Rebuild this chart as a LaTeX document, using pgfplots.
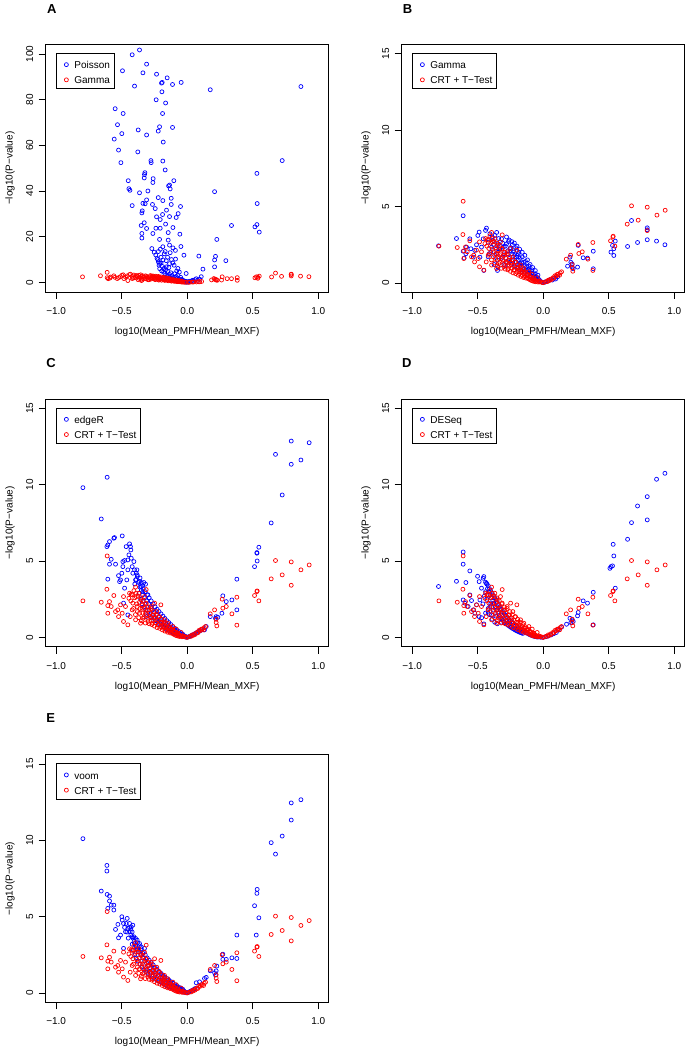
\documentclass[border=0pt]{standalone}
\usepackage{fontspec}
\setmainfont{Liberation Sans}
\usepackage{pgfplots}
\usepackage{pgfplotstable}
\pgfplotsset{compat=1.18}

\definecolor{rblue}{RGB}{0,0,255}
\definecolor{rred}{RGB}{255,0,0}

% ---- data: x = log10(Mean_PMFH/Mean_MXF), y = -log10(P-value)
\pgfplotstableread{
x y
-0.364 101.7
-0.420 99.6
-0.310 95.5
-0.494 92.6
-0.338 91.7
-0.234 91.1
-0.153 89.5
-0.196 87.2
-0.191 87.5
-0.046 87.5
-0.112 86.6
-0.402 85.9
0.176 84.3
0.868 85.7
-0.193 83.4
-0.237 79.9
-0.165 78.5
-0.550 76.0
-0.489 73.9
-0.188 73.9
-0.211 68.1
-0.112 67.8
-0.532 69.0
-0.221 66.2
-0.374 66.7
-0.310 64.5
-0.499 65.1
-0.557 62.7
-0.183 61.4
-0.524 57.9
-0.377 57.1
-0.506 52.4
-0.277 53.3
-0.275 52.4
-0.186 53.1
-0.168 49.2
0.725 53.3
0.532 47.7
-0.323 48.0
-0.326 47.2
-0.328 45.7
-0.260 45.4
-0.450 44.5
-0.102 44.5
-0.262 43.7
-0.142 42.2
-0.135 42.6
-0.130 40.9
-0.445 41.0
-0.437 40.3
0.209 39.7
-0.364 39.2
-0.300 40.0
-0.221 37.1
-0.122 36.8
-0.186 35.8
-0.310 36.1
-0.338 34.6
-0.321 34.4
-0.420 33.6
-0.265 34.1
-0.051 33.2
-0.122 34.1
0.534 34.5
-0.244 32.3
-0.343 31.3
-0.158 31.6
-0.346 30.4
-0.188 29.7
-0.069 30.1
-0.084 28.4
-0.234 28.7
-0.135 28.8
-0.206 27.5
-0.328 26.1
-0.165 25.5
-0.351 24.9
0.338 24.9
0.532 25.3
0.517 24.3
0.550 22.0
-0.310 23.6
-0.239 23.7
-0.206 23.7
-0.109 24.0
-0.145 21.8
-0.346 21.4
-0.262 21.4
-0.056 21.1
-0.346 19.4
0.226 18.8
-0.211 18.8
-0.145 18.5
-0.135 16.3
-0.048 15.7
-0.186 15.6
-0.270 14.8
-0.109 15.1
-0.252 13.2
-0.168 13.5
0.089 11.5
0.216 11.4
-0.025 11.9
0.295 9.5
0.209 9.8
-0.224 10.0
-0.089 10.2
-0.211 8.3
-0.135 8.2
-0.160 6.8
0.209 6.8
0.120 5.8
-0.071 6.1
-0.008 3.9
0.107 2.5
0.069 1.6
-0.041 1.3
-0.240 12.0
-0.230 10.5
-0.220 9.0
-0.215 7.5
-0.210 6.0
-0.200 8.5
-0.195 5.0
-0.190 7.0
-0.180 4.5
-0.175 6.2
-0.170 3.8
-0.165 5.5
-0.160 9.5
-0.155 3.2
-0.150 4.8
-0.145 2.5
-0.140 6.5
-0.135 3.5
-0.130 2.0
-0.125 4.2
-0.120 1.8
-0.115 3.0
-0.110 8.5
-0.105 2.2
-0.100 1.5
-0.095 3.8
-0.090 1.2
-0.085 2.6
-0.080 0.9
-0.075 1.9
-0.070 3.0
-0.065 0.8
-0.060 1.4
-0.055 0.6
-0.050 2.2
-0.045 0.5
-0.040 1.0
-0.035 0.4
-0.030 0.8
-0.025 0.3
-0.020 0.6
-0.015 0.2
-0.010 0.4
-0.005 0.15
0.000 0.1
0.005 0.3
0.010 0.2
0.020 0.5
0.030 0.4
0.040 0.9
0.050 0.6
0.060 1.2
0.080 0.9
0.095 1.4
-0.200 11.0
-0.185 9.8
-0.220 13.5
-0.205 14.5
-0.175 12.5
-0.150 11.0
-0.120 10.0
-0.100 7.5
-0.080 5.0
-0.060 4.5
-0.130 13.0
-0.090 14.0
}\tabpoisson

\pgfplotstableread{
x y
-0.799 2.42
-0.662 2.90
-0.611 4.39
-0.611 2.07
-0.603 1.62
-0.590 1.90
-0.585 2.34
-0.552 2.23
-0.560 2.88
-0.534 1.68
-0.522 2.12
-0.509 2.49
-0.499 3.10
-0.489 3.32
-0.483 1.68
-0.471 2.34
-0.458 2.88
-0.453 0.81
-0.440 3.43
-0.433 3.58
-0.420 2.66
-0.412 1.90
-0.407 3.21
-0.394 2.34
-0.382 2.77
-0.369 3.10
-0.356 1.90
-0.349 0.81
-0.344 2.55
-0.331 2.23
-0.318 2.88
-0.310 1.68
-0.305 2.34
-0.293 1.14
-0.280 2.55
-0.267 1.90
-0.254 2.23
-0.242 1.46
-0.229 2.01
-0.216 1.03
-0.204 1.68
-0.191 1.90
-0.178 1.24
0.186 1.09
0.204 1.68
0.211 1.35
0.221 1.24
0.221 1.03
0.229 0.92
0.262 1.03
0.267 2.45
0.305 1.64
0.338 1.62
0.382 2.07
0.382 0.92
0.517 2.01
0.529 2.45
0.539 2.23
0.539 1.79
0.550 2.73
0.644 2.38
0.674 4.08
0.720 2.64
0.794 3.60
0.794 3.47
0.794 2.82
0.865 2.73
0.929 2.49
-0.340 2.90
-0.330 2.20
-0.320 1.60
-0.310 2.60
-0.300 1.90
-0.290 2.40
-0.280 1.40
-0.270 2.10
-0.265 2.70
-0.260 1.60
-0.250 2.30
-0.245 1.20
-0.240 1.90
-0.235 2.50
-0.230 1.50
-0.225 2.10
-0.220 1.10
-0.215 1.70
-0.210 2.30
-0.205 1.35
-0.200 1.80
-0.195 0.95
-0.190 1.50
-0.185 2.00
-0.180 1.15
-0.175 1.60
-0.170 0.85
-0.165 1.30
-0.160 1.70
-0.155 1.00
-0.150 1.35
-0.145 0.70
-0.140 1.10
-0.135 1.40
-0.130 0.80
-0.125 1.05
-0.120 0.55
-0.115 0.85
-0.110 1.10
-0.105 0.60
-0.100 0.80
-0.095 0.45
-0.090 0.65
-0.085 0.85
-0.080 0.40
-0.075 0.55
-0.070 0.30
-0.065 0.45
-0.060 0.60
-0.055 0.25
-0.050 0.38
-0.045 0.18
-0.040 0.28
-0.035 0.12
-0.030 0.20
-0.020 0.08
-0.010 0.05
0.010 0.03
0.020 0.07
0.040 0.12
0.050 0.20
0.070 0.18
0.085 0.30
0.095 0.25
0.110 0.40
-0.380 2.50
-0.370 1.80
-0.360 2.20
-0.350 1.50
-0.400 2.00
-0.420 1.70
-0.390 3.00
-0.375 1.20
-0.355 3.30
-0.345 1.00
-0.300 1.20
-0.280 3.00
-0.260 2.80
-0.240 2.70
-0.220 2.60
-0.200 2.40
-0.180 2.20
-0.160 2.00
-0.140 1.80
-0.120 1.50
-0.100 1.20
-0.080 1.00
-0.060 0.80
-0.040 0.50
}\tabgamma

\pgfplotstableread{
x y
-0.796 2.40
-0.656 2.31
-0.611 5.34
-0.613 3.16
-0.606 2.09
-0.606 1.59
-0.593 2.35
-0.580 2.03
-0.560 2.75
-0.547 1.70
-0.530 1.81
-0.524 1.37
-0.509 2.14
-0.496 1.59
-0.486 1.05
-0.486 2.68
-0.471 2.03
-0.453 0.83
-0.445 2.57
-0.435 1.37
-0.427 2.83
-0.420 1.81
-0.415 2.25
-0.407 3.07
-0.394 1.16
-0.389 2.68
-0.382 2.03
-0.369 2.90
-0.364 1.59
-0.356 0.94
-0.351 2.46
-0.344 1.92
-0.338 1.26
-0.326 2.68
-0.318 1.59
-0.313 2.25
-0.300 1.05
-0.293 1.81
-0.282 1.37
-0.275 2.03
-0.267 0.94
-0.257 1.48
-0.249 2.25
-0.242 1.16
-0.232 1.70
-0.224 0.83
-0.211 1.37
-0.201 2.14
-0.193 0.98
-0.186 0.72
-0.173 1.16
-0.160 0.72
-0.148 0.94
-0.135 0.61
-0.122 0.50
-0.109 0.72
-0.097 0.39
-0.084 0.55
-0.071 0.28
-0.059 0.17
-0.046 0.33
-0.033 0.11
-0.020 0.07
-0.008 0.02
0.018 0.07
0.038 0.17
0.056 0.24
0.074 0.33
0.089 0.46
0.107 0.55
0.125 0.50
0.140 0.72
0.176 1.55
0.209 1.81
0.221 1.20
0.226 0.76
0.221 0.98
0.267 2.51
0.272 1.92
0.298 2.03
0.341 1.55
0.379 2.64
0.379 0.81
0.514 2.75
0.532 3.01
0.534 3.05
0.547 2.40
0.641 3.84
0.674 5.04
0.725 4.10
0.794 4.95
0.794 3.42
0.868 4.43
0.931 4.75
-0.313 3.14
-0.394 3.30
-0.440 2.90
-0.430 2.40
-0.420 2.80
-0.410 1.90
-0.400 2.60
-0.395 1.50
-0.390 2.90
-0.385 2.20
-0.380 1.70
-0.375 2.70
-0.370 1.30
-0.365 2.30
-0.360 1.90
-0.355 2.60
-0.350 1.10
-0.345 2.10
-0.340 1.60
-0.335 2.40
-0.330 1.35
-0.325 1.90
-0.320 0.95
-0.315 2.20
-0.310 1.50
-0.305 1.80
-0.300 1.20
-0.295 2.00
-0.290 0.90
-0.285 1.60
-0.280 1.30
-0.275 1.90
-0.270 0.85
-0.265 1.45
-0.260 1.10
-0.255 1.70
-0.250 0.75
-0.245 1.30
-0.240 0.95
-0.235 1.50
-0.230 0.65
-0.225 1.15
-0.220 0.85
-0.215 1.35
-0.210 0.60
-0.205 1.00
-0.200 0.70
-0.195 1.20
-0.190 0.50
-0.185 0.85
-0.180 0.60
-0.175 1.00
-0.170 0.42
-0.165 0.70
-0.160 0.50
-0.155 0.85
-0.150 0.35
-0.145 0.60
-0.140 0.40
-0.135 0.70
-0.130 0.30
-0.125 0.50
-0.120 0.33
-0.115 0.55
-0.110 0.25
-0.105 0.40
-0.100 0.20
-0.095 0.35
-0.090 0.15
-0.085 0.28
-0.080 0.12
-0.075 0.22
-0.070 0.10
-0.065 0.16
-0.060 0.07
-0.050 0.10
-0.040 0.05
-0.030 0.06
0.000 0.01
0.030 0.08
0.045 0.14
0.060 0.20
0.080 0.30
0.100 0.45
0.115 0.55
0.130 0.65
}\tabcrt

\pgfplotstableread{
x y
-0.796 9.81
-0.611 10.49
-0.656 7.76
-0.606 6.06
-0.613 5.95
-0.593 6.28
-0.560 6.50
-0.555 6.54
-0.580 5.12
-0.593 4.80
-0.547 4.80
-0.606 3.82
-0.496 6.65
-0.524 4.05
-0.509 3.77
-0.516 3.66
-0.499 4.21
-0.491 4.64
-0.491 4.97
-0.478 5.04
-0.466 5.95
-0.453 5.08
-0.461 3.77
-0.453 4.43
-0.445 5.41
-0.440 6.13
-0.433 5.95
-0.430 5.73
-0.427 5.19
-0.420 4.64
-0.415 4.21
-0.407 4.97
-0.402 4.43
-0.394 3.77
-0.389 4.21
-0.384 4.43
-0.382 4.10
-0.478 3.23
-0.486 2.25
-0.453 1.48
-0.364 3.66
-0.351 3.34
-0.338 3.01
-0.318 3.49
-0.300 2.79
-0.313 1.37
0.234 1.33
0.221 1.37
0.216 1.26
0.272 2.73
0.298 2.35
0.341 2.46
0.379 3.82
0.379 1.81
0.514 4.64
0.532 5.52
0.534 5.01
0.547 5.91
0.532 5.56
0.641 7.50
0.674 11.99
0.725 9.33
0.794 12.86
0.794 11.34
0.868 11.62
0.931 12.75
0.265 1.59
0.145 0.72
0.132 0.50
0.176 1.37
-0.370 3.60
-0.365 2.90
-0.360 3.30
-0.355 2.50
-0.350 3.10
-0.345 2.20
-0.340 2.80
-0.335 3.20
-0.330 2.00
-0.325 2.60
-0.320 3.00
-0.315 1.80
-0.310 2.40
-0.305 2.80
-0.300 1.60
-0.295 2.20
-0.290 2.60
-0.285 1.50
-0.280 2.00
-0.275 2.40
-0.270 1.35
-0.265 1.80
-0.260 2.20
-0.255 1.25
-0.250 1.65
-0.245 2.00
-0.240 1.10
-0.235 1.50
-0.230 1.85
-0.225 1.00
-0.220 1.35
-0.215 1.70
-0.210 0.90
-0.205 1.20
-0.200 1.55
-0.195 0.80
-0.190 1.10
-0.185 1.40
-0.180 0.70
-0.175 1.00
-0.170 1.25
-0.165 0.60
-0.160 0.88
-0.155 1.10
-0.150 0.52
-0.145 0.78
-0.140 0.98
-0.135 0.45
-0.130 0.68
-0.125 0.85
-0.120 0.38
-0.115 0.58
-0.110 0.72
-0.105 0.30
-0.100 0.48
-0.095 0.60
-0.090 0.25
-0.085 0.40
-0.080 0.50
-0.075 0.20
-0.070 0.32
-0.065 0.40
-0.060 0.15
-0.055 0.25
-0.050 0.32
-0.045 0.10
-0.040 0.18
-0.035 0.22
-0.030 0.07
-0.025 0.12
-0.020 0.05
-0.015 0.08
-0.010 0.03
0.000 0.02
0.010 0.04
0.020 0.08
0.030 0.12
0.040 0.16
0.050 0.20
0.060 0.25
0.070 0.30
0.080 0.36
0.090 0.40
0.100 0.45
0.110 0.50
-0.400 3.50
-0.390 3.80
-0.380 4.00
-0.360 3.90
-0.350 3.60
-0.340 3.40
-0.330 3.60
}\tabedger

\pgfplotstableread{
x y
-0.799 3.34
-0.662 3.68
-0.611 5.60
-0.611 4.80
-0.590 3.60
-0.560 4.36
-0.611 2.46
-0.598 2.25
-0.573 2.03
-0.560 2.79
-0.547 2.42
-0.534 1.81
-0.522 1.59
-0.509 2.14
-0.501 4.01
-0.489 1.37
-0.483 2.46
-0.489 3.66
-0.471 3.23
-0.458 3.88
-0.453 3.99
-0.453 0.89
-0.440 3.62
-0.433 3.55
-0.420 1.59
-0.407 2.03
-0.394 1.48
-0.382 2.25
0.509 4.53
0.517 4.64
0.529 4.69
0.539 5.34
0.534 6.10
0.550 3.23
0.644 6.43
0.674 7.52
0.720 8.61
0.794 9.22
0.794 7.70
0.865 10.36
0.929 10.75
0.382 2.96
0.382 0.83
0.338 2.25
0.305 2.40
0.267 1.64
0.262 1.42
0.221 1.16
0.211 0.98
0.204 1.26
0.229 1.05
0.178 0.87
0.140 0.68
0.115 0.50
-0.430 3.50
-0.425 3.20
-0.420 3.40
-0.415 3.00
-0.410 3.20
-0.405 2.80
-0.400 3.05
-0.395 2.60
-0.390 2.90
-0.385 2.40
-0.380 2.75
-0.375 2.20
-0.370 2.60
-0.365 2.00
-0.360 2.45
-0.355 1.80
-0.350 2.30
-0.345 1.60
-0.340 2.15
-0.335 1.45
-0.330 2.00
-0.325 1.30
-0.320 1.85
-0.315 1.20
-0.310 1.70
-0.305 1.10
-0.300 1.60
-0.295 1.00
-0.290 1.48
-0.285 0.92
-0.280 1.38
-0.275 0.85
-0.270 1.28
-0.265 0.78
-0.260 1.18
-0.255 0.72
-0.250 1.10
-0.245 0.66
-0.240 1.02
-0.235 0.60
-0.230 0.94
-0.225 0.55
-0.220 0.86
-0.215 0.50
-0.210 0.80
-0.205 0.45
-0.200 0.73
-0.195 0.41
-0.190 0.66
-0.185 0.37
-0.180 0.60
-0.175 0.33
-0.170 0.55
-0.165 0.30
-0.160 0.50
-0.155 0.27
-0.150 0.45
-0.140 0.38
-0.130 0.32
-0.120 0.27
-0.110 0.22
-0.100 0.18
-0.090 0.14
-0.080 0.11
-0.070 0.08
-0.060 0.06
-0.050 0.04
-0.040 0.03
-0.020 0.02
0.000 0.01
0.020 0.05
0.040 0.10
0.060 0.17
0.080 0.25
0.100 0.33
-0.440 3.00
-0.450 2.70
-0.430 2.50
-0.420 1.90
-0.410 1.50
-0.390 1.20
-0.370 1.00
-0.350 0.90
-0.400 2.20
-0.380 1.80
-0.360 1.40
-0.320 1.00
-0.470 1.30
-0.460 2.20
-0.440 1.60
}\tabdeseq

\pgfplotstableread{
x y
-0.796 10.11
-0.613 8.36
-0.613 7.99
-0.656 6.68
-0.611 6.46
-0.593 6.35
-0.593 6.03
-0.606 5.55
-0.580 5.76
-0.560 5.76
-0.560 5.44
-0.547 4.17
-0.529 4.50
-0.524 3.62
-0.509 3.80
-0.499 5.00
-0.496 4.78
-0.486 4.56
-0.478 4.30
-0.471 4.02
-0.466 4.56
-0.458 4.89
-0.453 4.24
-0.440 4.56
-0.435 4.02
-0.427 4.34
-0.420 3.69
-0.415 4.45
-0.407 3.69
-0.402 3.25
-0.394 3.58
-0.389 3.03
-0.382 3.47
-0.377 2.82
-0.364 3.25
-0.351 3.03
-0.338 2.60
-0.326 2.93
-0.486 2.93
0.527 3.80
0.514 5.72
0.532 6.53
0.534 6.79
0.547 4.93
0.641 9.85
0.674 9.10
0.725 10.28
0.794 11.33
0.794 12.45
0.868 12.66
0.379 3.80
0.379 2.27
0.341 2.31
0.298 2.21
0.272 2.55
0.272 2.21
0.226 1.77
0.221 1.46
0.216 1.18
0.209 1.33
0.176 1.46
0.145 1.03
0.132 0.96
0.094 0.74
0.069 0.68
-0.430 3.80
-0.420 3.20
-0.415 3.60
-0.410 2.80
-0.405 3.40
-0.400 2.50
-0.395 3.10
-0.390 2.30
-0.385 2.90
-0.380 3.30
-0.375 2.10
-0.370 2.70
-0.365 3.10
-0.360 1.90
-0.355 2.50
-0.350 2.90
-0.345 1.70
-0.340 2.30
-0.335 2.70
-0.330 1.55
-0.325 2.10
-0.320 2.50
-0.315 1.40
-0.310 1.95
-0.305 2.30
-0.300 1.30
-0.295 1.80
-0.290 2.15
-0.285 1.20
-0.280 1.65
-0.275 2.00
-0.270 1.10
-0.265 1.50
-0.260 1.85
-0.255 1.00
-0.250 1.40
-0.245 1.70
-0.240 0.90
-0.235 1.28
-0.230 1.55
-0.225 0.82
-0.220 1.15
-0.215 1.42
-0.210 0.75
-0.205 1.05
-0.200 1.30
-0.195 0.68
-0.190 0.95
-0.185 1.18
-0.180 0.60
-0.175 0.85
-0.170 1.05
-0.165 0.52
-0.160 0.76
-0.155 0.95
-0.150 0.45
-0.145 0.68
-0.140 0.85
-0.135 0.40
-0.130 0.60
-0.125 0.75
-0.120 0.35
-0.115 0.52
-0.110 0.65
-0.105 0.30
-0.100 0.45
-0.095 0.56
-0.090 0.25
-0.085 0.38
-0.080 0.48
-0.075 0.20
-0.070 0.32
-0.065 0.40
-0.060 0.16
-0.055 0.26
-0.050 0.33
-0.045 0.12
-0.040 0.20
-0.035 0.26
-0.030 0.08
-0.025 0.15
-0.020 0.05
-0.010 0.04
0.000 0.03
0.010 0.05
0.020 0.10
0.030 0.14
0.040 0.18
0.050 0.24
0.060 0.30
-0.460 4.00
-0.450 3.60
-0.440 4.30
-0.430 4.20
-0.420 4.00
}\tabvoom

\pgfplotsset{
  rpanel/.style={
    scale only axis,
    anchor=south west,
    width=283pt, height=247.5pt,
    xmin=-1.08, xmax=1.08,
    xtick={-1,-0.5,0,0.5,1},
    xticklabels={−1.0,−0.5,0.0,0.5,1.0},
    /pgf/number format/assume math mode=true,
    tick align=outside,
    xtick pos=bottom, ytick pos=left,
    major tick length=7pt,
    tick style={black, line width=0.6pt},
    axis line style={black, line width=0.8pt},
    ticklabel style={font=\fontsize{10}{12}\selectfont},
    xticklabel style={yshift=-5pt},
    yticklabel style={xshift=-2pt, rotate=90, anchor=south},
    xlabel={log10(Mean\_PMFH/Mean\_MXF)},
    ylabel={−log10(P−value)},
    label style={font=\fontsize{10}{12}\selectfont},
    xlabel style={at={(axis description cs:0.5,-0.1616)}, anchor=center},
    ylabel style={at={(axis description cs:-0.126,0.5)}, anchor=center},
    legend style={at={(axis description cs:0.0363,0.965)}, anchor=north west,
      draw=black, line width=0.8pt, font=\fontsize{10}{12}\selectfont,
      inner xsep=4pt, inner ysep=4.7pt, row sep=4.7pt, column sep=0pt,
      nodes={inner sep=0pt, text height=7pt, text depth=0pt}},
    legend cell align=left,
    legend image code/.code={\path[draw=none, fill=none] (-6pt,0pt) rectangle (8pt,7pt);
      \draw[##1] plot coordinates {(0pt,0.6pt)};},
  },
  bluepts/.style={only marks, mark=o, mark size=2pt, color=rblue, mark options={line width=0.7pt}},
  redpts/.style={only marks, mark=o, mark size=2pt, color=rred, mark options={line width=0.7pt}},
}

\begin{document}
\begin{tikzpicture}
\path[use as bounding box] (0pt,0pt) rectangle (685pt,1049pt);

% A
\begin{axis}[rpanel, at={(45.7pt,757pt)}, ymin=-4.2, ymax=104.1, ytick={0,20,40,60,80,100}]
\addplot[bluepts] table {\tabpoisson}; \addlegendentry{Poisson}
\addplot[redpts] table {\tabgamma}; \addlegendentry{Gamma}
\end{axis}

% B
\begin{axis}[rpanel, at={(401.7pt,757pt)}, ymin=-0.6, ymax=15.6, ytick={0,5,10,15}]
\addplot[bluepts] table {\tabgamma}; \addlegendentry{Gamma}
\addplot[redpts] table {\tabcrt}; \addlegendentry{CRT + T−Test}
\end{axis}

% C
\begin{axis}[rpanel, at={(45.7pt,402.3pt)}, ymin=-0.6, ymax=15.6, ytick={0,5,10,15}]
\addplot[bluepts] table {\tabedger}; \addlegendentry{edgeR}
\addplot[redpts] table {\tabcrt}; \addlegendentry{CRT + T−Test}
\end{axis}

% D
\begin{axis}[rpanel, at={(401.7pt,402.3pt)}, ymin=-0.6, ymax=15.6, ytick={0,5,10,15}]
\addplot[bluepts] table {\tabdeseq}; \addlegendentry{DESeq}
\addplot[redpts] table {\tabcrt}; \addlegendentry{CRT + T−Test}
\end{axis}

% E
\begin{axis}[rpanel, at={(45.7pt,46.7pt)}, ymin=-0.6, ymax=15.6, ytick={0,5,10,15}]
\addplot[bluepts] table {\tabvoom}; \addlegendentry{voom}
\addplot[redpts] table {\tabcrt}; \addlegendentry{CRT + T−Test}
\end{axis}

% panel letters
\node[font=\bfseries\fontsize{13}{15}\selectfont] at (51.7pt,1040.3pt) {A};
\node[font=\bfseries\fontsize{13}{15}\selectfont] at (407.5pt,1040.3pt) {B};
\node[font=\bfseries\fontsize{13}{15}\selectfont] at (51pt,686.2pt) {C};
\node[font=\bfseries\fontsize{13}{15}\selectfont] at (406.7pt,686.2pt) {D};
\node[font=\bfseries\fontsize{13}{15}\selectfont] at (50.8pt,330.7pt) {E};
\end{tikzpicture}
\end{document}
